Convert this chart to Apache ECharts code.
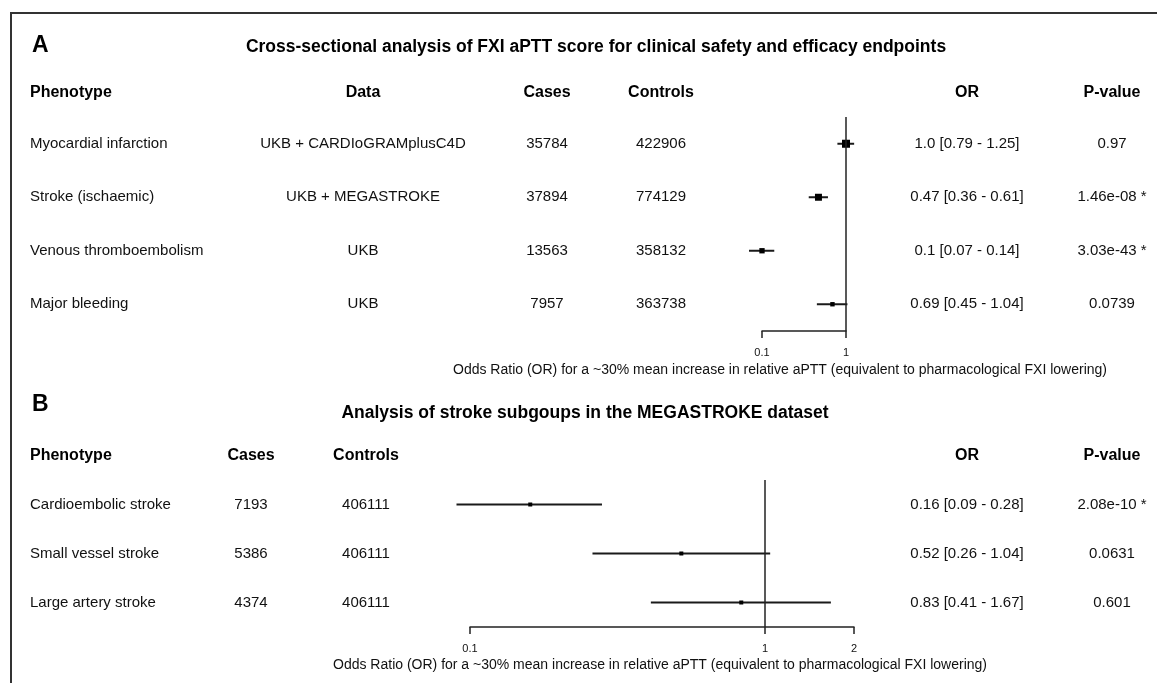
<!DOCTYPE html>
<html><head><meta charset="utf-8">
<script src="https://cdn.jsdelivr.net/npm/echarts@6/dist/echarts.min.js"></script>
<style>html,body{margin:0;padding:0;background:#fff}#c{width:1157px;height:683px}</style>
</head><body><div id="c"></div>
<script>
// ---------- Panel A data ----------
const phenotypesA = ['Myocardial infarction', 'Stroke (ischaemic)', 'Venous thromboembolism', 'Major bleeding'];
const sourcesA = ['UKB + CARDIoGRAMplusC4D', 'UKB + MEGASTROKE', 'UKB', 'UKB'];
const casesA = [35784, 37894, 13563, 7957];
const controlsA = [422906, 774129, 358132, 363738];
const orA = [1.0, 0.47, 0.1, 0.69];
const lowerA = [0.79, 0.36, 0.07, 0.45];
const upperA = [1.25, 0.61, 0.14, 1.04];
const orLabelsA = ['1.0 [0.79 - 1.25]', '0.47 [0.36 - 0.61]', '0.1 [0.07 - 0.14]', '0.69 [0.45 - 1.04]'];
const pValuesA = ['0.97', '1.46e-08 *', '3.03e-43 *', '0.0739'];
const ticksA = [0.1, 1];

// ---------- Panel B data ----------
const phenotypesB = ['Cardioembolic stroke', 'Small vessel stroke', 'Large artery stroke'];
const casesB = [7193, 5386, 4374];
const controlsB = [406111, 406111, 406111];
const orB = [0.16, 0.52, 0.83];
const lowerB = [0.09, 0.26, 0.41];
const upperB = [0.28, 1.04, 1.67];
const orLabelsB = ['0.16 [0.09 - 0.28]', '0.52 [0.26 - 1.04]', '0.83 [0.41 - 1.67]'];
const pValuesB = ['2.08e-10 *', '0.0631', '0.601'];
const ticksB = [0.1, 1, 2];

const titleA = 'Cross-sectional analysis of FXI aPTT score for clinical safety and efficacy endpoints';
const titleB = 'Analysis of stroke subgoups in the MEGASTROKE dataset';
const axisTitle = 'Odds Ratio (OR) for a ~30% mean increase in relative aPTT (equivalent to pharmacological FXI lowering)';

const FONT = '"Liberation Sans", Arial, Helvetica, sans-serif';
const INK = '#111';

// box size inversely proportional to CI width on log scale (forest-plot weighting)
function boxSizes(lo, hi, k, minS) {
  return lo.map((l, i) => Math.max(minS, k / Math.log10(hi[i] / l)));
}
const sizesA = boxSizes(lowerA, upperA, 1.6, 4);
const sizesB = boxSizes(lowerB, upperB, 1.6, 4);

function forestRender(sizes) {
  return function (params, api) {
    const y = api.value(1);
    const c = api.coord([api.value(0), y]);
    const l = api.coord([api.value(2), y]);
    const h = api.coord([api.value(3), y]);
    const s = sizes[params.dataIndex];
    return {
      type: 'group', children: [
        { type: 'line', shape: { x1: l[0], y1: c[1], x2: h[0], y2: c[1] }, style: { stroke: '#1a1a1a', lineWidth: 2 } },
        { type: 'rect', shape: { x: c[0] - s / 2, y: c[1] - s / 2, width: s, height: s }, style: { fill: '#000' } }
      ]
    };
  };
}

function textRender(columns) {
  return function (params, api) {
    const i = params.dataIndex;
    const y = api.coord([1, api.value(1)])[1];
    return {
      type: 'group',
      children: columns.map(col => ({
        type: 'text', x: col.x, y: y,
        style: { text: String(col.values[i]), textAlign: col.align, textVerticalAlign: 'middle', fontSize: 15, fontFamily: FONT, fill: INK }
      }))
    };
  };
}

function headerText(x, y, text, align) {
  return { type: 'text', x: x, y: y, style: { text: text, textAlign: align, textVerticalAlign: 'middle', fontSize: 16, fontWeight: 'bold', fontFamily: FONT, fill: '#000' } };
}

const colsA = [
  { x: 30, align: 'left', values: phenotypesA, head: 'Phenotype' },
  { x: 363, align: 'center', values: sourcesA, head: 'Data' },
  { x: 547, align: 'center', values: casesA, head: 'Cases' },
  { x: 661, align: 'center', values: controlsA, head: 'Controls' },
  { x: 967, align: 'center', values: orLabelsA, head: 'OR' },
  { x: 1112, align: 'center', values: pValuesA, head: 'P-value' }
];
const colsB = [
  { x: 30, align: 'left', values: phenotypesB, head: 'Phenotype' },
  { x: 251, align: 'center', values: casesB, head: 'Cases' },
  { x: 366, align: 'center', values: controlsB, head: 'Controls' },
  { x: 967, align: 'center', values: orLabelsB, head: 'OR' },
  { x: 1112, align: 'center', values: pValuesB, head: 'P-value' }
];

function xAxisCfg(gridIndex, min, max, ticks) {
  return {
    type: 'log', logBase: 10, gridIndex: gridIndex, min: min, max: max, position: 'bottom',
    splitLine: { show: false },
    axisLine: { show: true, onZero: false, lineStyle: { color: '#222', width: 1.5 } },
    axisTick: { show: true, inside: false, length: 7, lineStyle: { color: '#222', width: 1.5 }, customValues: ticks },
    axisLabel: { show: true, fontSize: 11, color: INK, fontFamily: FONT, margin: 16, customValues: ticks, formatter: v => String(v) }
  };
}
function yAxisCfg(gridIndex, n) {
  return { type: 'value', gridIndex: gridIndex, min: -0.5, max: n - 0.5, inverse: true, show: false };
}

const refLine = () => ({
  silent: true, symbol: 'none', label: { show: false },
  lineStyle: { color: '#222', type: 'solid', width: 1.5 },
  data: [{ xAxis: 1 }]
});

const option = {
  animation: false,
  backgroundColor: '#fff',
  grid: [
    { left: 762, width: 84, top: 117, height: 214 },
    { left: 470, width: 384, top: 480, height: 147 }
  ],
  xAxis: [xAxisCfg(0, 0.1, 1, ticksA), xAxisCfg(1, 0.1, 2, ticksB)],
  yAxis: [yAxisCfg(0, phenotypesA.length), yAxisCfg(1, phenotypesB.length)],
  graphic: [
    { type: 'rect', shape: { x: 11, y: 13, width: 1300, height: 800 }, style: { fill: 'none', stroke: '#333', lineWidth: 2 }, silent: true },
    { type: 'text', x: 32, y: 46, style: { text: 'A', textAlign: 'left', textVerticalAlign: 'middle', fontSize: 23, fontWeight: 'bold', fontFamily: FONT, fill: '#000' } },
    { type: 'text', x: 596, y: 47, style: { text: titleA, textAlign: 'center', textVerticalAlign: 'middle', fontSize: 17.5, fontWeight: 'bold', fontFamily: FONT, fill: '#000' } },
    ...colsA.map(c => headerText(c.x, 93, c.head, c.align)),
    { type: 'text', x: 780, y: 370, style: { text: axisTitle, textAlign: 'center', textVerticalAlign: 'middle', fontSize: 14, fontFamily: FONT, fill: INK } },
    { type: 'text', x: 32, y: 405, style: { text: 'B', textAlign: 'left', textVerticalAlign: 'middle', fontSize: 23, fontWeight: 'bold', fontFamily: FONT, fill: '#000' } },
    { type: 'text', x: 585, y: 413, style: { text: titleB, textAlign: 'center', textVerticalAlign: 'middle', fontSize: 17.5, fontWeight: 'bold', fontFamily: FONT, fill: '#000' } },
    ...colsB.map(c => headerText(c.x, 456, c.head, c.align)),
    { type: 'text', x: 660, y: 665, style: { text: axisTitle, textAlign: 'center', textVerticalAlign: 'middle', fontSize: 14, fontFamily: FONT, fill: INK } }
  ],
  series: [
    {
      type: 'custom', xAxisIndex: 0, yAxisIndex: 0, clip: false,
      renderItem: forestRender(sizesA),
      encode: { x: 0, y: 1 },
      data: orA.map((v, i) => [v, i, lowerA[i], upperA[i]]),
      markLine: refLine()
    },
    {
      type: 'custom', xAxisIndex: 1, yAxisIndex: 1, clip: false,
      renderItem: forestRender(sizesB),
      encode: { x: 0, y: 1 },
      data: orB.map((v, i) => [v, i, lowerB[i], upperB[i]]),
      markLine: refLine()
    },
    {
      type: 'custom', xAxisIndex: 0, yAxisIndex: 0, clip: false,
      renderItem: textRender(colsA),
      encode: { x: 0, y: 1 },
      data: phenotypesA.map((p, i) => [1, i])
    },
    {
      type: 'custom', xAxisIndex: 1, yAxisIndex: 1, clip: false,
      renderItem: textRender(colsB),
      encode: { x: 0, y: 1 },
      data: phenotypesB.map((p, i) => [1, i])
    }
  ]
};

const chart = echarts.init(document.getElementById('c'), null, { renderer: 'canvas' });
chart.setOption(option);
</script>
</body></html>
